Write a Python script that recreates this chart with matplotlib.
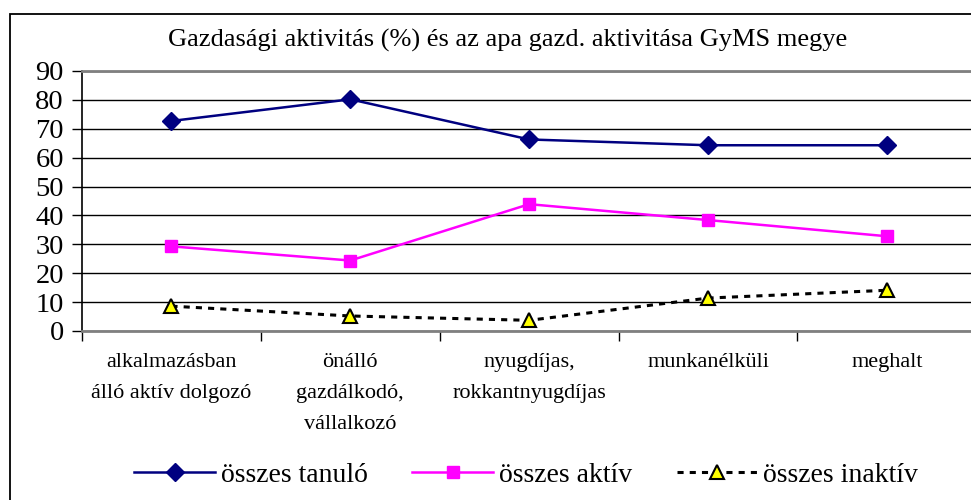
import matplotlib
matplotlib.use("Agg")
import matplotlib.pyplot as plt
from matplotlib.patches import Rectangle
import numpy as np

# ---------------------------------------------------------------------------
# Data
# ---------------------------------------------------------------------------
categories = [
    "alkalmazásban\nálló aktív dolgozó",
    "önálló\ngazdálkodó,\nvállalkozó",
    "nyugdíjas,\nrokkantnyugdíjas",
    "munkanélküli",
    "meghalt",
]
osszes_tanulo = [72.7, 80.2, 66.3, 64.3, 64.3]
osszes_aktiv = [29.3, 24.4, 43.9, 38.4, 32.8]
osszes_inaktiv = [8.6, 5.2, 3.7, 11.4, 14.1]

TITLE = "Gazdasági aktivitás (%) és az apa gazd. aktivitása GyMS megye"

plt.rcParams["font.family"] = ["Liberation Serif", "DejaVu Serif"]

fig = plt.figure(figsize=(9.71, 5.0), dpi=100)
fig.patch.set_facecolor("white")

# outer chart border (right/bottom edges fall outside the image)
fig.patches.append(Rectangle((9.5 / 971, -0.1), 1.2, 1 - 13.5 / 500 + 0.1,
                             transform=fig.transFigure, fill=False,
                             edgecolor="black", linewidth=1.3))

ax = fig.add_axes([82 / 971, 1 - 331 / 500, 1 - 82 / 971, 260 / 500])
x = np.arange(len(categories))

ax.plot(x, osszes_tanulo, color="#000080", lw=1.8, marker="D", ms=9,
        mfc="#000080", mec="#000080", label="összes tanuló", zorder=4)
ax.plot(x, osszes_aktiv, color="#FF00FF", lw=1.8, marker="s", ms=8.5,
        mfc="#FF00FF", mec="#FF00FF", label="összes aktív", zorder=4)
ax.plot(x, osszes_inaktiv, color="black", lw=2.2, ls=(0, (2, 2)),
        marker="^", ms=10, mfc="#FFFF00", mec="black", mew=1.5,
        label="összes inaktív", zorder=5)

ax.set_ylim(0, 90)
ax.set_yticks(np.arange(0, 91, 10))
ax.set_xlim(-0.5, 4.47)
ax.set_xticks(x)
ax.set_xticklabels(categories, fontsize=16, linespacing=1.85)
ax.set_xticks(np.arange(-0.5, 4.0, 1), minor=True)
ax.tick_params(axis="x", which="major", length=0, pad=16)
ax.tick_params(axis="x", which="minor", length=7, width=1, direction="out",
               color="black")
ax.tick_params(axis="y", length=7, width=1, direction="out", labelsize=20.5,
               pad=6, color="black")

ax.yaxis.grid(True, color="black", lw=1)
ax.set_axisbelow(True)
ax.spines["left"].set_color("black")
ax.spines["left"].set_linewidth(1.2)
ax.spines["bottom"].set_color("#808080")
ax.spines["bottom"].set_linewidth(2)
ax.spines["top"].set_color("#808080")
ax.spines["top"].set_linewidth(2)
ax.spines["right"].set_visible(False)

fig.text(0.523, 1 - 40 / 500, TITLE, ha="center", va="center", fontsize=19)

fig.legend(loc="center", bbox_to_anchor=(0.542, 1 - 475 / 500), ncol=3,
           frameon=False, fontsize=20, handlelength=2.9, columnspacing=1.6,
           handletextpad=0.22, borderpad=0)

fig.savefig("out.png", dpi=100, facecolor="white")
